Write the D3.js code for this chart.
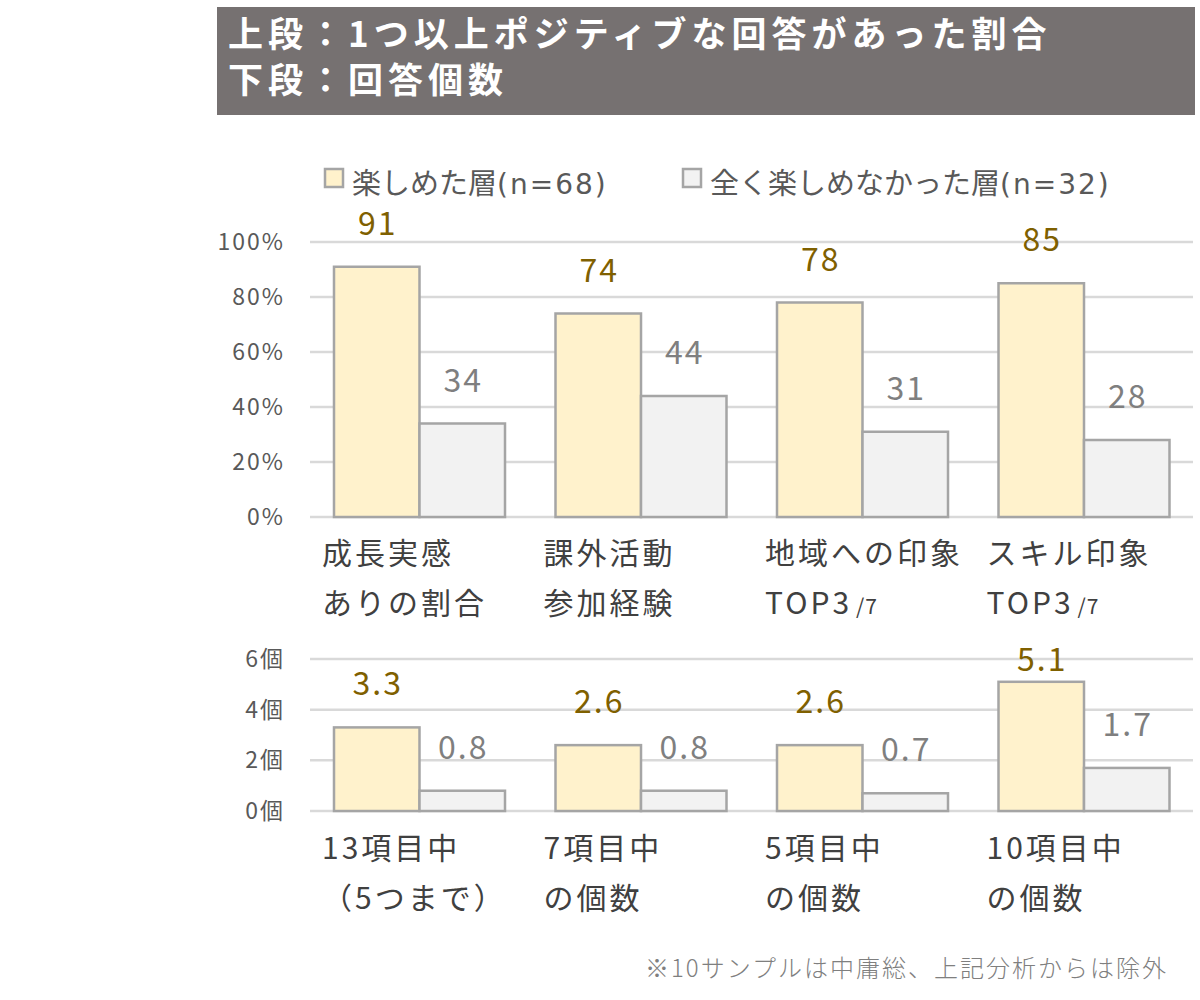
<!DOCTYPE html>
<html>
<head>
<meta charset="utf-8">
<script src="https://cdn.jsdelivr.net/npm/d3@7"></script>
<style>
  body { margin: 0; background: #fff; }
  svg { display: block; font-family: "Noto Sans CJK JP", "Noto Sans", sans-serif; }
</style>
</head>
<body>
<div id="chart"></div>
<script>
// data
const titleLines = ["上段：1つ以上ポジティブな回答があった割合", "下段：回答個数"];
const seriesNames = ["楽しめた層", "全く楽しめなかった層"];
const seriesN = [68, 32];

const topCategories = [["成長実感", "ありの割合"], ["課外活動", "参加経験"], ["地域への印象", "TOP3", "/7"], ["スキル印象", "TOP3", "/7"]];
const topEnjoyed = [91, 74, 78, 85];
const topNotEnjoyed = [34, 44, 31, 28];
const percentTicks = [0, 20, 40, 60, 80, 100];

const bottomCategories = [["13項目中", "（5つまで）"], ["7項目中", "の個数"], ["5項目中", "の個数"], ["10項目中", "の個数"]];
const bottomEnjoyed = [3.3, 2.6, 2.6, 5.1];
const bottomNotEnjoyed = [0.8, 0.8, 0.7, 1.7];
const countTicks = [0, 2, 4, 6];

const footnote = "※10サンプルは中庸総、上記分析からは除外";

const width = 1200, height = 1000;
const fills = ["#fff2cc", "#f2f2f2"];
const labelColors = ["#7f6000", "#7f7f7f"];
const gridColor = "#d9d9d9";
const strokeColor = "#a5a5a5";

const svg = d3.select("#chart").append("svg")
    .attr("width", width)
    .attr("height", height);

// Title box
svg.append("rect")
    .attr("x", 217).attr("y", 7)
    .attr("width", 978).attr("height", 108)
    .attr("fill", "#767171");

svg.append("g")
    .selectAll("text")
    .data(titleLines)
    .join("text")
    .attr("x", 228)
    .attr("y", (d, i) => 47 + i * 46)
    .attr("fill", "#fff")
    .attr("font-size", 35)
    .attr("font-weight", "bold")
    .attr("letter-spacing", 5)
    .text(d => d);

// Legend
const legendX = [325, 683];
const legend = svg.append("g")
    .selectAll("g")
    .data(seriesNames)
    .join("g")
    .attr("transform", (d, i) => `translate(${legendX[i]},169)`);

legend.append("rect")
    .attr("x", 0).attr("y", 0)
    .attr("width", 18).attr("height", 18)
    .attr("fill", (d, i) => fills[i])
    .attr("stroke", strokeColor)
    .attr("stroke-width", 2.5);

const legendText = legend.append("text")
    .attr("x", 27)
    .attr("y", 25)
    .attr("fill", "#595959")
    .attr("font-size", 29);

legendText.append("tspan").text(d => d);
legendText.append("tspan")
    .attr("font-family", "DejaVu Sans")
    .attr("font-size", 28)
    .attr("letter-spacing", 2)
    .text((d, i) => `(n=${seriesN[i]})`);

// shared x scale
const x0 = d3.scaleBand()
    .domain(d3.range(4))
    .range([310, 1196]);

const x1 = d3.scaleBand()
    .domain([0, 1])
    .range([24, 195]);

function drawPanel(opts) {
    const { y, ticks, tickFormat, cats, series, labelFormat, catY, labelMinY } = opts;
    const g = svg.append("g");

    // gridlines
    g.append("g")
        .selectAll("line")
        .data(ticks)
        .join("line")
        .attr("x1", 310)
        .attr("x2", 1193)
        .attr("y1", d => y(d))
        .attr("y2", d => y(d))
        .attr("stroke", gridColor)
        .attr("stroke-width", 2.5);

    // y tick labels
    g.append("g")
        .selectAll("text")
        .data(ticks)
        .join("text")
        .attr("x", 285)
        .attr("y", d => y(d))
        .attr("dy", "0.35em")
        .attr("text-anchor", "end")
        .attr("fill", "#595959")
        .attr("font-size", 23)
        .attr("letter-spacing", 2)
        .text(tickFormat);

    // bars
    const rows = [];
    series.forEach((vals, s) => vals.forEach((v, i) => rows.push({ i, s, v })));

    g.append("g")
        .selectAll("rect")
        .data(rows)
        .join("rect")
        .attr("x", d => x0(d.i) + x1(d.s))
        .attr("width", x1.bandwidth())
        .attr("y", d => y(d.v))
        .attr("height", d => y(0) - y(d.v))
        .attr("fill", d => fills[d.s])
        .attr("stroke", strokeColor)
        .attr("stroke-width", 2.5);

    // value labels (kept inside the plot area like the original)
    g.append("g")
        .selectAll("text")
        .data(rows)
        .join("text")
        .attr("x", d => x0(d.i) + x1(d.s) + x1.bandwidth() / 2 + 1)
        .attr("y", d => Math.max(y(d.v) - 32, labelMinY))
        .attr("text-anchor", "middle")
        .attr("fill", d => labelColors[d.s])
        .attr("font-size", 32)
        .attr("letter-spacing", 2)
        .text(d => labelFormat(d.v));

    // category labels
    const cat = g.append("g")
        .selectAll("text")
        .data(cats)
        .join("text")
        .attr("fill", "#404040")
        .attr("font-size", 30)
        .attr("letter-spacing", 3);

    cat.append("tspan")
        .attr("x", (d, i) => x0(i) + 12)
        .attr("y", catY)
        .text(d => d[0]);

    cat.append("tspan")
        .attr("x", (d, i) => x0(i) + 12)
        .attr("y", catY + 50)
        .text(d => d[1]);

    cat.filter(d => d[2])
        .append("tspan")
        .attr("dx", 4)
        .attr("font-size", 21)
        .attr("letter-spacing", 1)
        .text(d => d[2]);
}

// upper panel: percentages
drawPanel({
    y: d3.scaleLinear().domain([0, 100]).range([517, 242]),
    ticks: percentTicks,
    tickFormat: d => d + "%",
    cats: topCategories,
    series: [topEnjoyed, topNotEnjoyed],
    labelFormat: d => d,
    catY: 564,
    labelMinY: 0
});

// lower panel: counts
drawPanel({
    y: d3.scaleLinear().domain([0, 6]).range([811, 659]),
    ticks: countTicks,
    tickFormat: d => d + "個",
    cats: bottomCategories,
    series: [bottomEnjoyed, bottomNotEnjoyed],
    labelFormat: d3.format(".1f"),
    catY: 859,
    labelMinY: 671
});

// footnote
svg.append("text")
    .attr("x", 1168)
    .attr("y", 977)
    .attr("text-anchor", "end")
    .attr("fill", "#7f7f7f")
    .attr("font-size", 24)
    .attr("letter-spacing", 2)
    .attr("font-weight", 300)
    .text(footnote);
</script>
</body>
</html>
